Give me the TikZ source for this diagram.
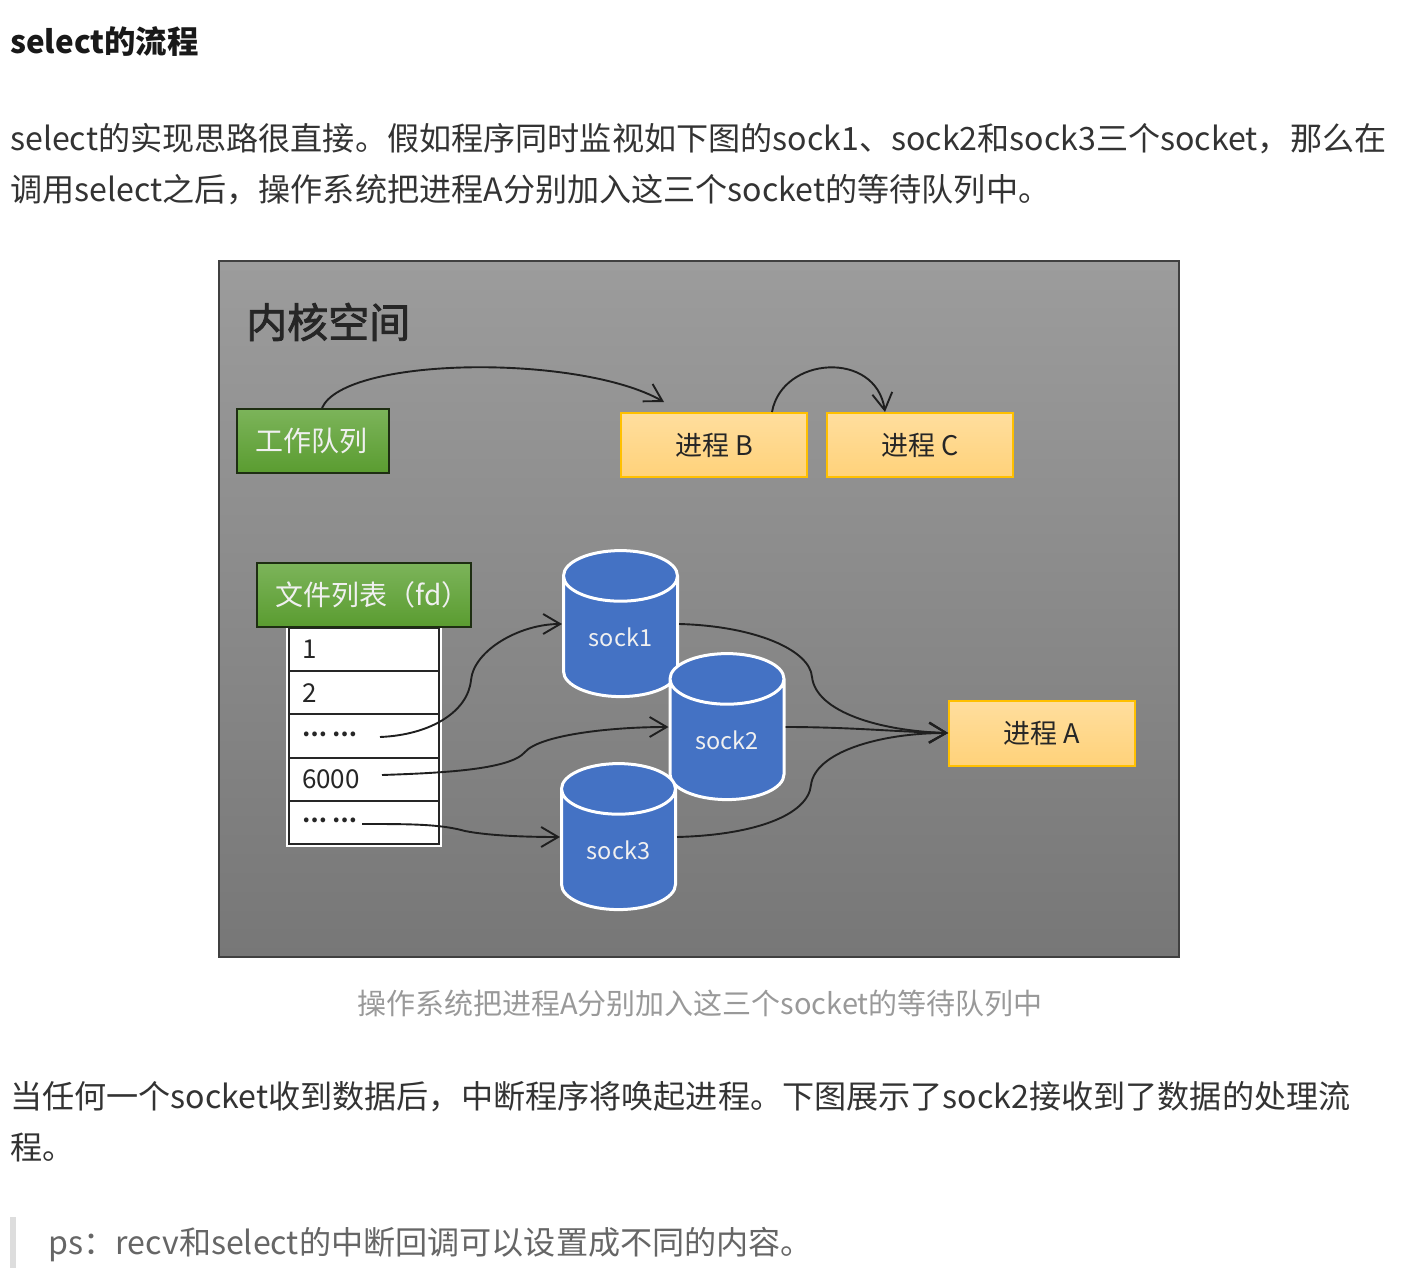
\documentclass[tikz,border=0pt]{standalone}
\usepackage{xcolor}
\usepackage{fontspec}
\setmainfont{Noto Sans CJK SC}
\usepackage{tikz}
\usetikzlibrary{shapes.geometric, arrows.meta, positioning}
\definecolor{bodytext}{HTML}{333333}
\definecolor{captiontext}{HTML}{999999}
\definecolor{quotetext}{HTML}{666666}
\definecolor{quotebar}{HTML}{DDDDDD}
\definecolor{paneltop}{HTML}{9C9C9C}
\definecolor{panelbottom}{HTML}{777777}
\definecolor{panelline}{HTML}{404040}
\definecolor{greentop}{HTML}{7CB45A}
\definecolor{greenbottom}{HTML}{5A9C30}
\definecolor{greenline}{HTML}{1E2E12}
\definecolor{orangetop}{HTML}{FFDE9E}
\definecolor{orangebottom}{HTML}{FFD27A}
\definecolor{orangeline}{HTML}{FFC000}
\definecolor{sockblue}{HTML}{4472C4}
\definecolor{linkline}{HTML}{1F1F1F}
\newcommand{\celldots}{\raisebox{4pt}{\fontsize{22}{26}\selectfont\bfseries …\hspace{6pt}…}}
\tikzset{
    pagetext/.style={anchor=west, inner sep=0pt, text=bodytext, font=\fontsize{32.12}{38}\selectfont},
    greenbox/.style={draw=greenline, line width=2pt, top color=greentop, bottom color=greenbottom,
        text=white!94!black, inner sep=0pt, font=\fontsize{28}{34}\selectfont},
    procbox/.style={draw=orangeline, line width=2pt, top color=orangetop, bottom color=orangebottom,
        text=black!85, minimum width=186pt, minimum height=64pt, inner sep=0pt, font=\fontsize{27}{32}\selectfont},
    cellbox/.style={draw=black!85, line width=2pt, fill=white, minimum width=150pt, minimum height=43.2pt,
        text width=124pt, inner sep=0pt, outer sep=0pt, align=left, font=\fontsize{26}{30}\selectfont, text=black!85},
    sockcyl/.style={cylinder, shape border rotate=90, aspect=0.8, draw=white, line width=3pt, fill=sockblue,
        minimum width=114pt, minimum height=146pt, inner sep=0pt, text=white!94!black, font=\fontsize{23.5}{28}\selectfont},
    link/.style={draw=linkline, line width=1.9pt, -{Straight Barb[length=17pt,width=20pt,line width=1.9pt]}},
}

\begin{document}
\begin{tikzpicture}[x=1pt, y=-1pt]
\useasboundingbox (0,0) rectangle (1409,1284);

\node[pagetext, text=black!90, font=\fontsize{31.4}{38}\selectfont\bfseries] (heading) at (10,42) {select的流程};
\node[pagetext] (lineone) at (10,139) {select的实现思路很直接。假如程序同时监视如下图的sock1、sock2和sock3三个socket，那么在};
\node[pagetext] (linetwo) at (10,190) {调用select之后，操作系统把进程A分别加入这三个socket的等待队列中。};

\node[draw=panelline, line width=2pt, top color=paneltop, bottom color=panelbottom,
    minimum width=960pt, minimum height=696pt, inner sep=0pt] (panel) at (699,609) {};
\node[anchor=west, inner sep=0pt, text=black!85, font=\fontsize{41}{46}\selectfont\addfontfeature{FakeBold=2}] (kernel) at (246,322) {内核空间};

\node[greenbox, minimum width=152pt, minimum height=64pt] (workq) at (313,441) {\raisebox{2pt}{工作队列}\hspace*{4pt}};
\node[procbox] (procB) at (714,445) {进程 B};
\node[procbox] (procC) at (920,445) {进程 C};
\node[procbox, minimum height=65pt] (procA) at (1042,733) {进程 A};

\node[draw=white, line width=2pt, minimum width=154pt, minimum height=218pt, inner sep=0pt] (listframe) at (364,737) {};
\node[cellbox] (cellone) at (364,649.6) {1};
\node[cellbox, below=0pt of cellone] (celltwo) {2};
\node[cellbox, below=0pt of celltwo] (cellthree) {\celldots};
\node[cellbox, below=0pt of cellthree] (cellfour) {6000};
\node[cellbox, below=0pt of cellfour] (cellfive) {\celldots};
\node[greenbox, minimum width=214pt, minimum height=64pt] (fdlist) at (364,595) {\hspace*{17pt}\raisebox{2pt}{文件列表（fd）}};

\node[sockcyl] (sockone) at (620.5,637) {sock1};
\node[sockcyl] (socktwo) at (727,740) {sock2};
\node[sockcyl] (sockthree) at (618.5,850) {sock3};

\coordinate (cellthreeout) at (380,737);
\coordinate (cellfourout) at (382,775);
\coordinate (cellfiveout) at (362,824);
\coordinate (workqout) at (322,408);
\coordinate (procBin) at (664,402);
\coordinate (procBout) at (772,412);
\coordinate (procCin) at (885,412);

\draw[link] (workqout) .. controls (345,356) and (580,354) .. (procBin);
\draw[link] (procBout) .. controls (782,356) and (876,350) .. (procCin);
\draw[link] (cellthreeout) .. controls (430,735) and (468,712) .. (471,680) .. controls (474,650) and (520,624) .. ([yshift=13pt]sockone.west);
\draw[link] (cellfourout) .. controls (440,773) and (510,770) .. (525,752) .. controls (540,735) and (610,727) .. ([yshift=13pt]socktwo.west);
\draw[link] (cellfiveout) .. controls (410,824) and (440,824) .. (465,831) .. controls (490,836) and (530,837) .. ([yshift=13pt]sockthree.west);
\draw[link] ([yshift=13pt]sockone.east) .. controls (755,626) and (810,650) .. (812,677) .. controls (816,712) and (880,731) .. (procA.west);
\draw[link] ([yshift=13pt]socktwo.east) .. controls (850,727) and (900,732) .. (procA.west);
\draw[link] ([yshift=13pt]sockthree.east) .. controls (755,835) and (808,815) .. (811,785) .. controls (815,752) and (880,733) .. (procA.west);

\node[inner sep=0pt, text=captiontext, font=\fontsize{29}{36}\selectfont] (caption) at (700,1003) {操作系统把进程A分别加入这三个socket的等待队列中};
\node[pagetext] (linethree) at (10,1097) {当任何一个socket收到数据后，中断程序将唤起进程。下图展示了sock2接收到了数据的处理流};
\node[pagetext] (linefour) at (10,1147) {程。};

\fill[quotebar] (10,1217) rectangle (16,1268);
\node[pagetext, text=quotetext] (quote) at (48.5,1245) {ps：recv和select的中断回调可以设置成不同的内容。};
\end{tikzpicture}
\end{document}
